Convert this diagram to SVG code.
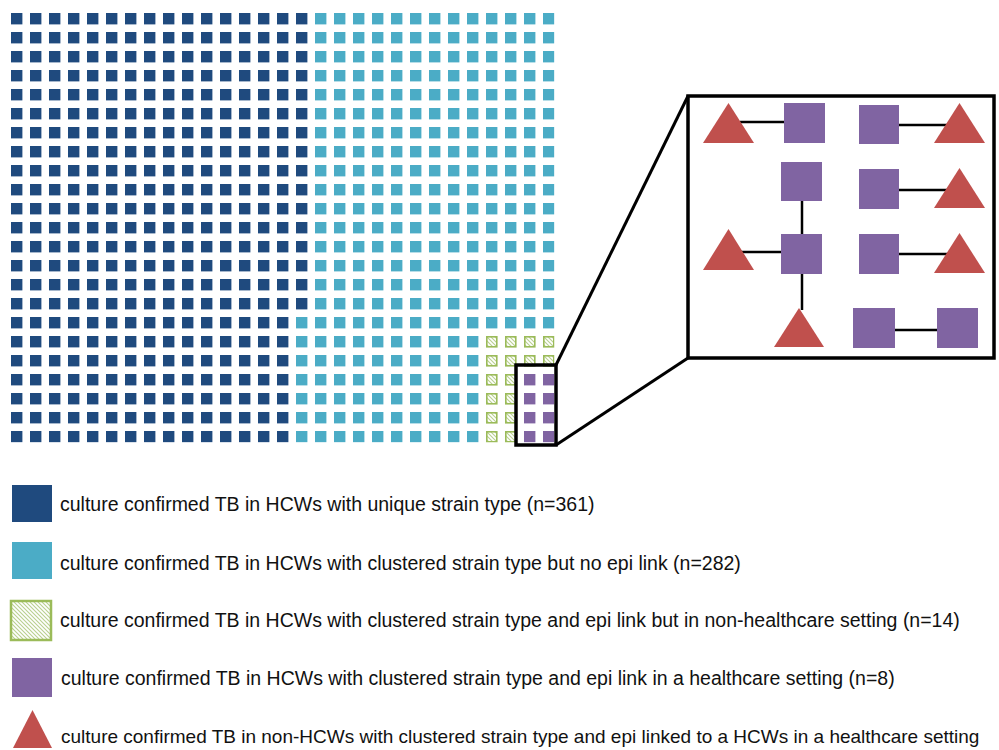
<svg xmlns="http://www.w3.org/2000/svg" width="999" height="750" viewBox="0 0 999 750">
<style>
.lbl{font-family:"Liberation Sans",Arial,sans-serif;font-size:19.5px;fill:#111}
.dk{fill:#1f4a7e}
.lt{fill:#4bacc6}
.pu{fill:#8064a2}
.rd{fill:#c0504d}
.gr{fill:url(#hatch);stroke:#9bbb59}
.edge{stroke:#000;stroke-width:2.5;fill:none}
.frame{fill:none;stroke:#000;stroke-width:3.5}
</style>
<defs>
<pattern id="hatch" patternUnits="userSpaceOnUse" width="4" height="4">
<rect width="4" height="4" fill="#fff"/>
<path d="M-1,-1 L5,5 M3,-1 L5,1 M-1,3 L1,5" stroke="#b9d08f" stroke-width="1.1"/>
</pattern>
<pattern id="pDk" patternUnits="userSpaceOnUse" x="11" y="13" width="19" height="19">
<rect width="11.4" height="11.4" class="dk"/>
</pattern>
<pattern id="pLt" patternUnits="userSpaceOnUse" x="11" y="13" width="19" height="19">
<rect width="11.4" height="11.4" class="lt"/>
</pattern>
<pattern id="pGr" patternUnits="userSpaceOnUse" x="11" y="13" width="19" height="19">
<rect x="0.8" y="0.8" width="10" height="10" class="gr" stroke-width="1.6"/>
</pattern>
<pattern id="pPu" patternUnits="userSpaceOnUse" x="11" y="13" width="19" height="19">
<rect width="11.4" height="11.4" class="pu"/>
</pattern>
</defs>
<rect width="999" height="750" fill="#fff"/>

<g id="waffle">
<rect x="11" y="13" width="285" height="429.4" fill="url(#pDk)"/>
<rect x="296" y="13" width="19" height="304" fill="url(#pDk)"/>
<rect x="296" y="317" width="19" height="125.4" fill="url(#pLt)"/>
<rect x="315" y="13" width="171" height="429.4" fill="url(#pLt)"/>
<rect x="486" y="13" width="68.4" height="323" fill="url(#pLt)"/>
<rect x="486" y="336" width="68.4" height="38" fill="url(#pGr)"/>
<rect x="486" y="374" width="38" height="68.4" fill="url(#pGr)"/>
<rect x="524" y="374" width="30.4" height="68.4" fill="url(#pPu)"/>
</g>

<g id="zoom">
<rect x="516" y="365" width="40" height="80" class="frame" stroke-width="3"/>
<line x1="556" y1="365" x2="688" y2="96" stroke="#000" stroke-width="3"/>
<line x1="556" y1="445" x2="688" y2="358" stroke="#000" stroke-width="3"/>
<rect x="688" y="96" width="306" height="262" class="frame"/>
</g>

<g id="connectors">
<line class="edge" x1="740" y1="122" x2="784" y2="122"/>
<line class="edge" x1="899" y1="125" x2="948" y2="125"/>
<line class="edge" x1="899" y1="190" x2="948" y2="190"/>
<line class="edge" x1="740" y1="252" x2="781" y2="252"/>
<line class="edge" x1="802" y1="201" x2="802" y2="234"/>
<line class="edge" x1="802" y1="274" x2="802" y2="310"/>
<line class="edge" x1="899" y1="254" x2="948" y2="254"/>
<line class="edge" x1="895" y1="330" x2="937" y2="330"/>
</g>

<g id="t1"><polygon class="rd" points="703,143 728.5,103 754,143"/></g>
<g id="s1"><rect class="pu" x="784" y="103" width="41" height="40"/></g>
<g id="s2"><rect class="pu" x="859" y="105" width="40" height="39"/></g>
<g id="t2"><polygon class="rd" points="934,143 959.5,103 985,143"/></g>
<g id="s3"><rect class="pu" x="781" y="162" width="41" height="39"/></g>
<g id="s4"><rect class="pu" x="859" y="169" width="40" height="40"/></g>
<g id="t3"><polygon class="rd" points="934,208 959.5,168 985,208"/></g>
<g id="t4"><polygon class="rd" points="703,270 728.5,229 754,270"/></g>
<g id="s5"><rect class="pu" x="781" y="234" width="41" height="40"/></g>
<g id="s6"><rect class="pu" x="859" y="234" width="40" height="40"/></g>
<g id="t5"><polygon class="rd" points="934,273 959.5,233 985,273"/></g>
<g id="t6"><polygon class="rd" points="774,347 799,308 824,347"/></g>
<g id="s7"><rect class="pu" x="853" y="308" width="42" height="40"/></g>
<g id="s8"><rect class="pu" x="937" y="308" width="41" height="40"/></g>

<g id="legend1">
<rect class="dk" x="12" y="485" width="40" height="37"/>
<text class="lbl" x="60" y="511">culture confirmed TB in HCWs with unique strain type (n=361)</text>
</g>
<g id="legend2">
<rect class="lt" x="12" y="542" width="40" height="37"/>
<text class="lbl" x="60" y="570">culture confirmed TB in HCWs with clustered strain type but no epi link (n=282)</text>
</g>
<g id="legend3">
<rect class="gr" x="11" y="601" width="40" height="39" stroke-width="2.5"/>
<text class="lbl" x="60" y="627">culture confirmed TB in HCWs with clustered strain type and epi link but in non-healthcare setting (n=14)</text>
</g>
<g id="legend4">
<rect class="pu" x="12" y="658" width="40" height="39"/>
<text class="lbl" x="61" y="685">culture confirmed TB in HCWs with clustered strain type and epi link in a healthcare setting (n=8)</text>
</g>
<g id="legend5">
<polygon class="rd" points="13,748 32.5,710 52,748"/>
<text class="lbl" x="61" y="743" style="font-size:19px">culture confirmed TB in non-HCWs with clustered strain type and epi linked to a HCWs in a healthcare setting</text>
</g>
</svg>
